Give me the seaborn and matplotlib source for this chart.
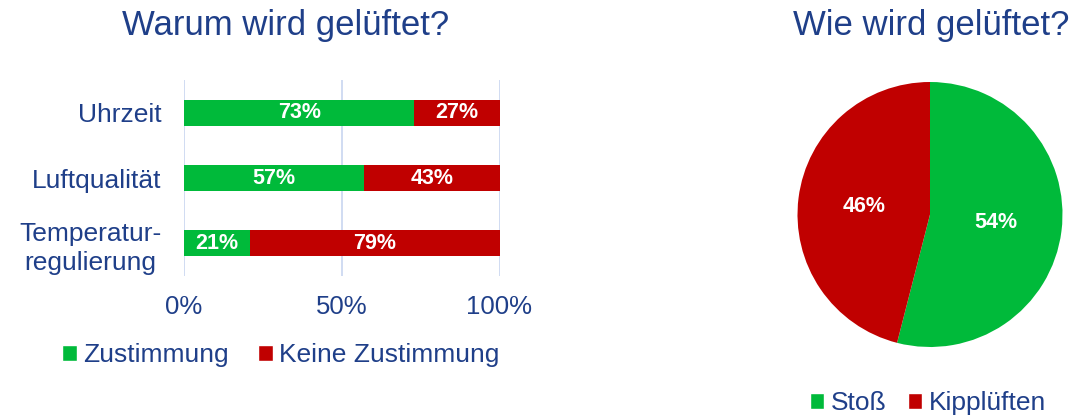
import matplotlib
matplotlib.use("Agg")
import matplotlib.pyplot as plt
from matplotlib.patches import Patch
import seaborn as sns
import pandas as pd

# ---- data ----
categories = ["Uhrzeit", "Luftqualität", "Temperatur-\nregulierung"]
zustimmung = [73, 57, 21]
keine_zustimmung = [27, 43, 79]
bar_series = ["Zustimmung", "Keine Zustimmung"]
x_ticks = [0, 50, 100]
x_tick_labels = ["0%", "50%", "100%"]

pie_labels = ["Stoß", "Kipplüften"]
pie_values = [54, 46]

title_left = "Warum wird gelüftet?"
title_right = "Wie wird gelüftet?"

# ---- style ----
GREEN = "#00BA3A"
RED = "#C00000"
NAVY = "#1F3F89"
GRID = "#C8D5F0"

sns.set_theme(style="white")
plt.rcParams["font.family"] = ["Liberation Sans", "DejaVu Sans"]

fig = plt.figure(figsize=(10.75, 4.19), dpi=100)

# ---- stacked bar chart ----
ax = fig.add_axes([184 / 1075, 1 - 276 / 419, 315.5 / 1075, 196 / 419])
df = pd.DataFrame({
    "cat": categories,
    "green": zustimmung,
    "total": [g + r for g, r in zip(zustimmung, keine_zustimmung)],
})
sns.barplot(data=df, y="cat", x="total", color=RED, orient="h", width=0.4,
            ax=ax, saturation=1, zorder=3, linewidth=0, edgecolor="none")
sns.barplot(data=df, y="cat", x="green", color=GREEN, orient="h", width=0.4,
            ax=ax, saturation=1, zorder=3, linewidth=0, edgecolor="none")

for i, (g, r) in enumerate(zip(zustimmung, keine_zustimmung)):
    ax.text(g / 2, i, f"{g}%", ha="center", va="center", color="white",
            fontsize=15.5, fontweight="bold", zorder=5)
    ax.text(g + r / 2, i, f"{r}%", ha="center", va="center", color="white",
            fontsize=15.5, fontweight="bold", zorder=5)

ax.set_xlim(0, 100)
ax.set_ylim(2.5, -0.5)
ax.set_xticks(x_ticks)
ax.set_xticklabels(x_tick_labels)
ax.set_xlabel("")
ax.set_ylabel("")
for s in ax.spines.values():
    s.set_visible(False)
ax.grid(False)
for xv in x_ticks:
    ax.axvline(xv, color=GRID, lw=1.2, zorder=1)
ax.tick_params(axis="x", length=0, pad=14, labelsize=18.5, labelcolor=NAVY)
ax.tick_params(axis="y", length=0, pad=16, labelsize=19, labelcolor=NAVY)
for lab in ax.get_yticklabels():
    lab.set_linespacing(1.25)
    lab.set_multialignment("center")

fig.text(286 / 1075, 1 - 26 / 419, title_left, ha="center", va="center",
         fontsize=25, color=NAVY)

h1 = [Patch(facecolor=GREEN, label=bar_series[0]),
      Patch(facecolor=RED, label=bar_series[1])]
fig.legend(handles=h1, loc="center", bbox_to_anchor=(281 / 1075, 1 - 355 / 419),
           ncol=2, frameon=False, fontsize=19, labelcolor=NAVY,
           handlelength=0.55, handleheight=0.55, handletextpad=0.25,
           columnspacing=1.1, borderaxespad=0, borderpad=0)

# ---- pie chart ----
axp = fig.add_axes([797 / 1075, 1 - 347 / 419, 266 / 1075, 265 / 419])
axp.pie(pie_values, colors=[GREEN, RED], startangle=90, counterclock=False,
        autopct=lambda p: f"{p:.0f}%", pctdistance=0.5,
        textprops=dict(color="white", fontsize=15.5, fontweight="bold"),
        wedgeprops=dict(linewidth=0))
axp.set_xlim(-1, 1)
axp.set_ylim(-1, 1)
axp.set_aspect("equal")
axp.axis("off")

fig.text(931 / 1075, 1 - 26 / 419, title_right, ha="center", va="center",
         fontsize=25, color=NAVY)

h2 = [Patch(facecolor=GREEN, label=pie_labels[0]),
      Patch(facecolor=RED, label=pie_labels[1])]
fig.legend(handles=h2, loc="center", bbox_to_anchor=(928 / 1075, 1 - 403 / 419),
           ncol=2, frameon=False, fontsize=19, labelcolor=NAVY,
           handlelength=0.55, handleheight=0.55, handletextpad=0.25,
           columnspacing=0.8, borderaxespad=0, borderpad=0)

fig.savefig("out.png", dpi=100, facecolor="white")
